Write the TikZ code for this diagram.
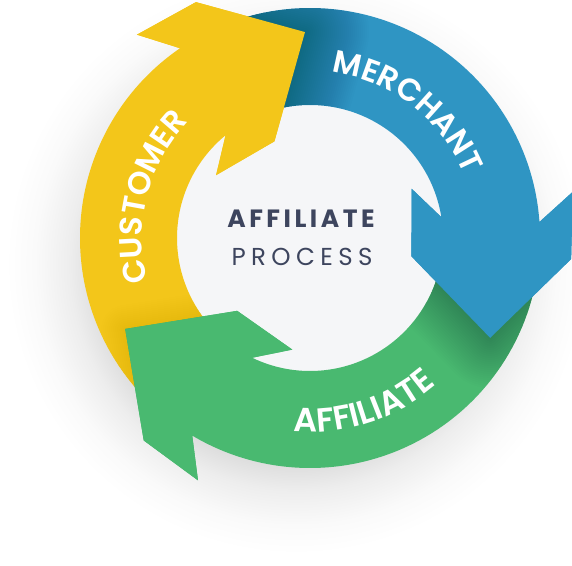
\documentclass[tikz,border=0pt]{standalone}
\usepackage{fontspec}
\newfontfamily\popsemi{Poppins SemiBold}
\newfontfamily\popbold{Poppins Bold}
\newfontfamily\popreg{Poppins}
\usetikzlibrary{decorations.text}

\definecolor{custyellow}{HTML}{F3C61A}
\definecolor{merchblue}{HTML}{2F95C3}
\definecolor{affgreen}{HTML}{49B970}
\definecolor{textdark}{HTML}{3D455E}
\definecolor{innerfill}{HTML}{F5F6F8}

\newcommand{\labelfont}{\popsemi\fontsize{31.5pt}{32pt}\selectfont}
% whole arrow: #1 tip angle, #2 tail angle
\newcommand{\cyclearrow}[2]{(#2:230pt) arc[start angle=#2, end angle=#1+33, radius=230pt]
  -- (#1+39:267pt) -- (#1+24.4:262pt) -- (#1:206pt) -- (#1+18.8:103pt) -- (#1+54.8:113pt)
  -- (#1+38:133pt) arc[start angle=#1+38, end angle=#2, radius=133pt] -- cycle}
% head only
\newcommand{\cyclehead}[1]{(#1+33:230pt) -- (#1+39:267pt) -- (#1+24.4:262pt) -- (#1:206pt)
  -- (#1+18.8:103pt) -- (#1+54.8:113pt) -- (#1+38:133pt) -- cycle}

\pgfdeclareradialshading{ringglow}{\pgfpoint{0bp}{0bp}}{color(0bp)=(black!14); color(17bp)=(black!14);
  color(19.5bp)=(black!7); color(22.5bp)=(black!2); color(25bp)=(white); color(50bp)=(white)}

\begin{document}
\begin{tikzpicture}
  \tikzset{headshade/.style={black, line join=round, opacity=#1},
    ringlabel/.style={decorate, decoration={text along path, text align=center, text color=white}}}
  \fill[white] (-310pt,-327pt) rectangle (262pt,238pt);
  \useasboundingbox (-310pt,-327pt) rectangle (262pt,238pt);

  % soft shadow under the ring
  \shade[shading=ringglow] (-14pt,-26pt) circle (290pt);
  \fill[innerfill] (0,0) circle (134pt);

  % the three arrows
  \fill[custyellow] \cyclearrow{91.4}{232};
  \fill[merchblue] \cyclearrow{-29}{112};
  \fill[affgreen] \cyclearrow{206.2}{354};

  % shadows cast by each head on the next band
  \begin{scope}
    \clip \cyclearrow{-29}{112};
    \foreach \w in {4,8,...,130} \draw[headshade=0.009, line width=\w pt] \cyclehead{91.4};
  \end{scope}
  \begin{scope}
    \clip \cyclearrow{206.2}{354};
    \foreach \w in {4,8,...,100} \draw[headshade=0.008, line width=\w pt] \cyclehead{-29};
  \end{scope}
  \begin{scope}
    \clip \cyclearrow{91.4}{232};
    \foreach \w in {4,8,...,48} \draw[headshade=0.005, line width=\w pt] \cyclehead{206.2};
  \end{scope}

  % heads on top
  \fill[custyellow] \cyclehead{91.4};
  \fill[merchblue] \cyclehead{-29};
  \fill[affgreen] \cyclehead{206.2};

  % band labels
  \path[ringlabel, decoration={text={|\labelfont|CUSTOMER}}]
    (215:168pt) arc[start angle=215, end angle=116, radius=168pt];
  \path[ringlabel, decoration={text={|\labelfont|MERCHANT}}]
    (102:167pt) arc[start angle=102, end angle=3, radius=167pt];
  \path[ringlabel, decoration={text={|\popsemi\fontsize{33.5pt}{34pt}\selectfont|AFFILIATE}}]
    (240:194pt) arc[start angle=240, end angle=336, radius=194pt];

  % centre title
  \node[anchor=base, text=textdark, font={\popbold\fontsize{25pt}{25pt}\selectfont\addfontfeature{LetterSpace=14}}]
    (title) at (-9pt,11pt) {AFFILIATE};
  \node[anchor=base, text=textdark, font={\popreg\fontsize{24.5pt}{25pt}\selectfont\addfontfeature{LetterSpace=22}}]
    (subtitle) at (-8pt,-27pt) {PROCESS};
\end{tikzpicture}
\end{document}
